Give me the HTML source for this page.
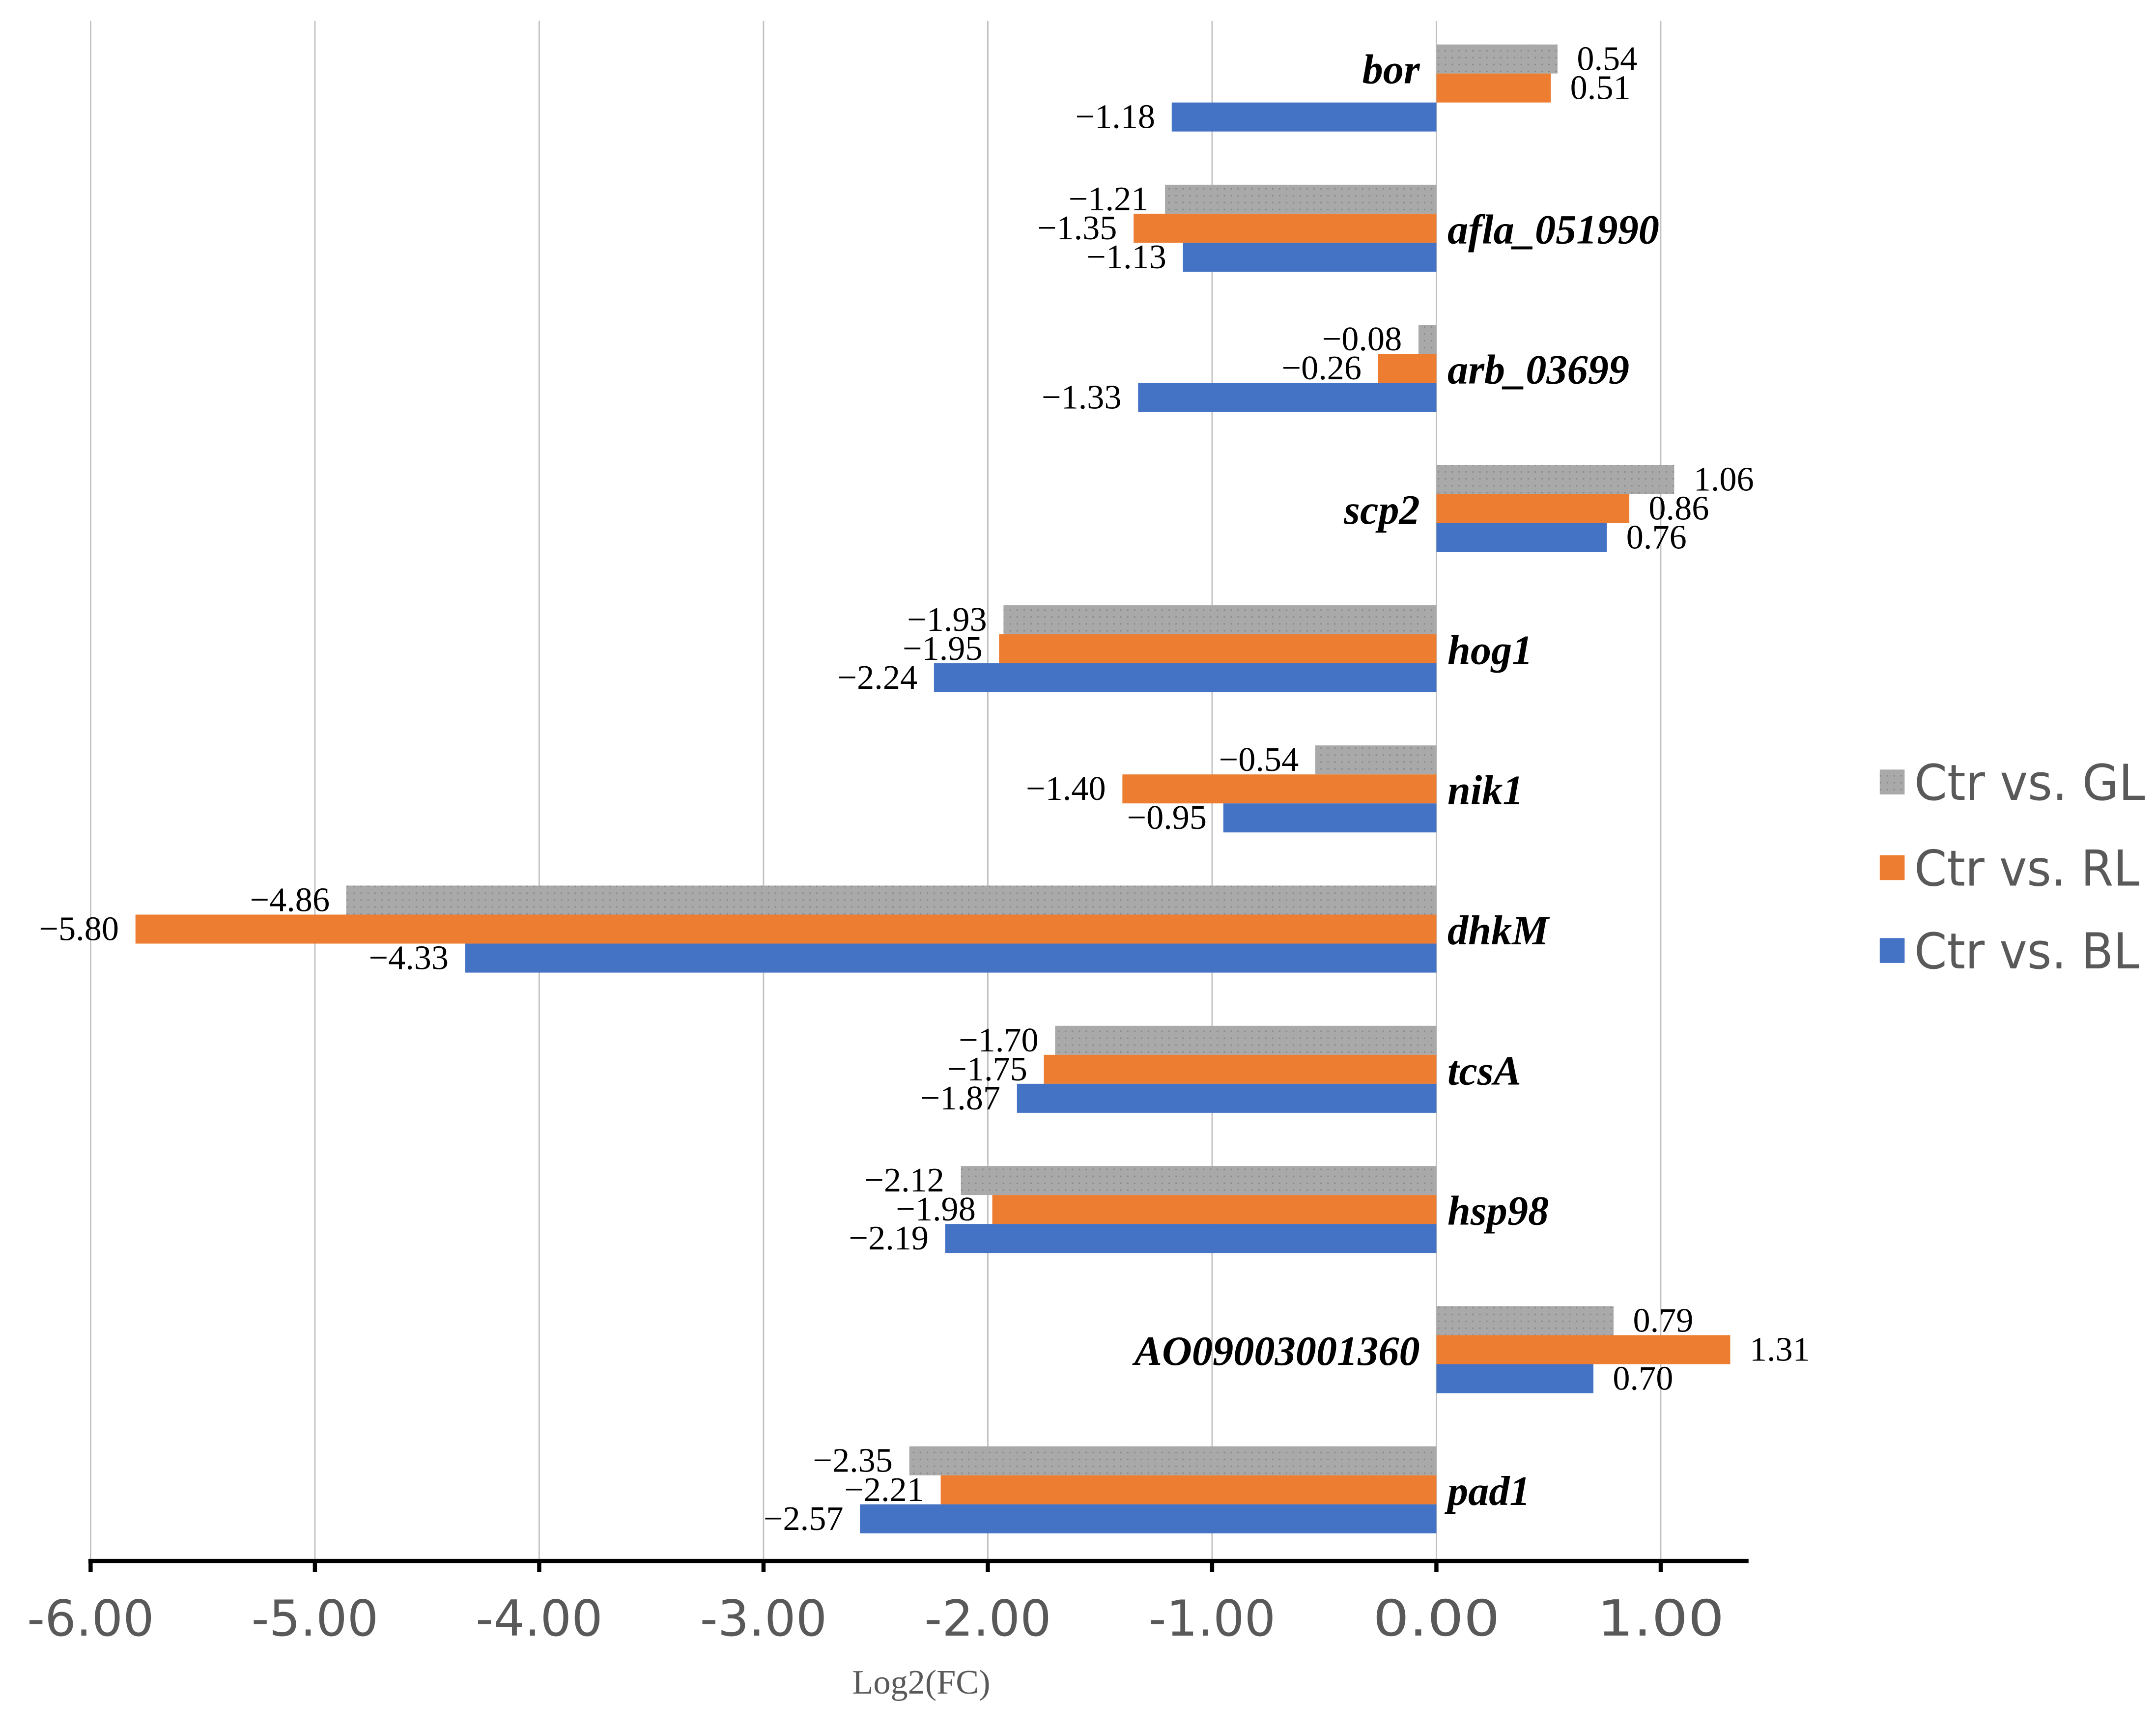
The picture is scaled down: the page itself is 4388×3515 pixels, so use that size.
<!DOCTYPE html>
<html><head><meta charset="utf-8"><style>
html,body{margin:0;padding:0;background:#fff;}
svg{display:block;}
</style></head><body>
<svg id="chart" width="4388" height="3515" viewBox="0 0 1561 1250" xmlns="http://www.w3.org/2000/svg">
<defs>
<pattern id="dots" width="5" height="5" patternUnits="userSpaceOnUse">
<rect width="5" height="5" fill="#a9a9a9"/>
<circle cx="1.5" cy="1.5" r="0.6" fill="#8a8a8a"/>
</pattern>
</defs>
<g id="grid"></g>
<g id="bars"></g>
<g id="labels"></g>
<g id="axis"></g>
<text x="667" y="1226" text-anchor="middle" font-family="Liberation Serif, serif" font-size="25" fill="#595959">Log2(FC)</text>
<g font-family="DejaVu Sans Condensed, Liberation Sans, sans-serif" font-size="36" fill="#595959">
<g><rect x="1361" y="557" width="18" height="18" fill="url(#dots)"/><text x="1386" y="579" textLength="167" lengthAdjust="spacingAndGlyphs">Ctr vs. GL</text></g>
<g><rect x="1361" y="619" width="18" height="18" fill="#ED7D31"/><text x="1386" y="641" textLength="163" lengthAdjust="spacingAndGlyphs">Ctr vs. RL</text></g>
<g><rect x="1361" y="679" width="18" height="18" fill="#4472C4"/><text x="1386" y="701" textLength="163" lengthAdjust="spacingAndGlyphs">Ctr vs. BL</text></g>
</g>
</svg>
<script>
const categories = ["bor","afla_051990","arb_03699","scp2","hog1","nik1","dhkM","tcsA","hsp98","AO09003001360","pad1"];
const seriesGL = [0.54,-1.21,-0.08,1.06,-1.93,-0.54,-4.86,-1.70,-2.12,0.79,-2.35];
const seriesRL = [0.51,-1.35,-0.26,0.86,-1.95,-1.40,-5.80,-1.75,-1.98,1.31,-2.21];
const seriesBL = [-1.18,-1.13,-1.33,0.76,-2.24,-0.95,-4.33,-1.87,-2.19,0.70,-2.57];
const tickValues = [-6,-5,-4,-3,-2,-1,0,1];
const tickLabels = ["-6.00","-5.00","-4.00","-3.00","-2.00","-1.00","0.00","1.00"];

const NS="http://www.w3.org/2000/svg";
const X0=1040, UNIT=162.4, TOP=32, STEP=101.5, BH=21;
function xs(v){return X0+v*UNIT;}
function gy(i){return TOP+i*STEP;}
function mk(tag,attrs,parent){const e=document.createElementNS(NS,tag);for(const k in attrs)e.setAttribute(k,attrs[k]);parent.appendChild(e);return e;}
function fmt(v){return (v<0?"\u2212":"")+Math.abs(v).toFixed(2);}

const grid=document.getElementById('grid'), axis=document.getElementById('axis');
tickValues.forEach((t,i)=>{
  const l=mk('line',{x1:xs(t),x2:xs(t),y1:15,y2:1130,stroke:'#c0c0c0','stroke-width':1},grid);
  
  
  const tk=mk('line',{x1:xs(t),x2:xs(t),y1:1130,y2:1138,stroke:'#000','stroke-width':3},axis);
  
  
  const tx=mk('text',{x:xs(t),y:1184,'text-anchor':'middle','font-family':'DejaVu Sans Condensed, Liberation Sans, sans-serif','font-size':36,fill:'#595959',textLength:92,lengthAdjust:'spacingAndGlyphs'},axis);
  tx.textContent=tickLabels[i];
  
  
});
const al=mk('line',{x1:64,x2:1266,y1:1130,y2:1130,stroke:'#000','stroke-width':3},axis);



const bars=document.getElementById('bars'), labels=document.getElementById('labels');
const series=[[seriesGL,'url(#dots)','gl'],[seriesRL,'#ED7D31','rl'],[seriesBL,'#4472C4','bl']];
categories.forEach((c,i)=>{
  series.forEach((s,j)=>{
    const v=s[0][i], y=gy(i)+j*BH;
    const x=Math.min(xs(0),xs(v)), w=Math.abs(xs(v)-xs(0));
    const r=mk('rect',{x:x,y:y,width:w,height:BH,fill:s[1]},bars);
    
    
    const t=mk('text',{x:v>=0?xs(v)+14:xs(v)-12,y:y+BH/2+8,'text-anchor':v>=0?'start':'end','font-family':'Liberation Serif, serif','font-size':25,fill:'#000'},labels);
    t.textContent=fmt(v);
    
    
  });
  const anyPos=seriesGL[i]>0||seriesRL[i]>0||seriesBL[i]>0;
  const yb = i===0 ? gy(i)+28 : gy(i)+BH*1.5+11;
  const cl=mk('text',{x:anyPos?1028:1048,y:yb,'text-anchor':anyPos?'end':'start','font-family':'Liberation Serif, serif','font-size':30,'font-weight':'bold','font-style':'italic',fill:'#000'},labels);
  cl.textContent=c;
  
  
});
</script>
</body></html>
